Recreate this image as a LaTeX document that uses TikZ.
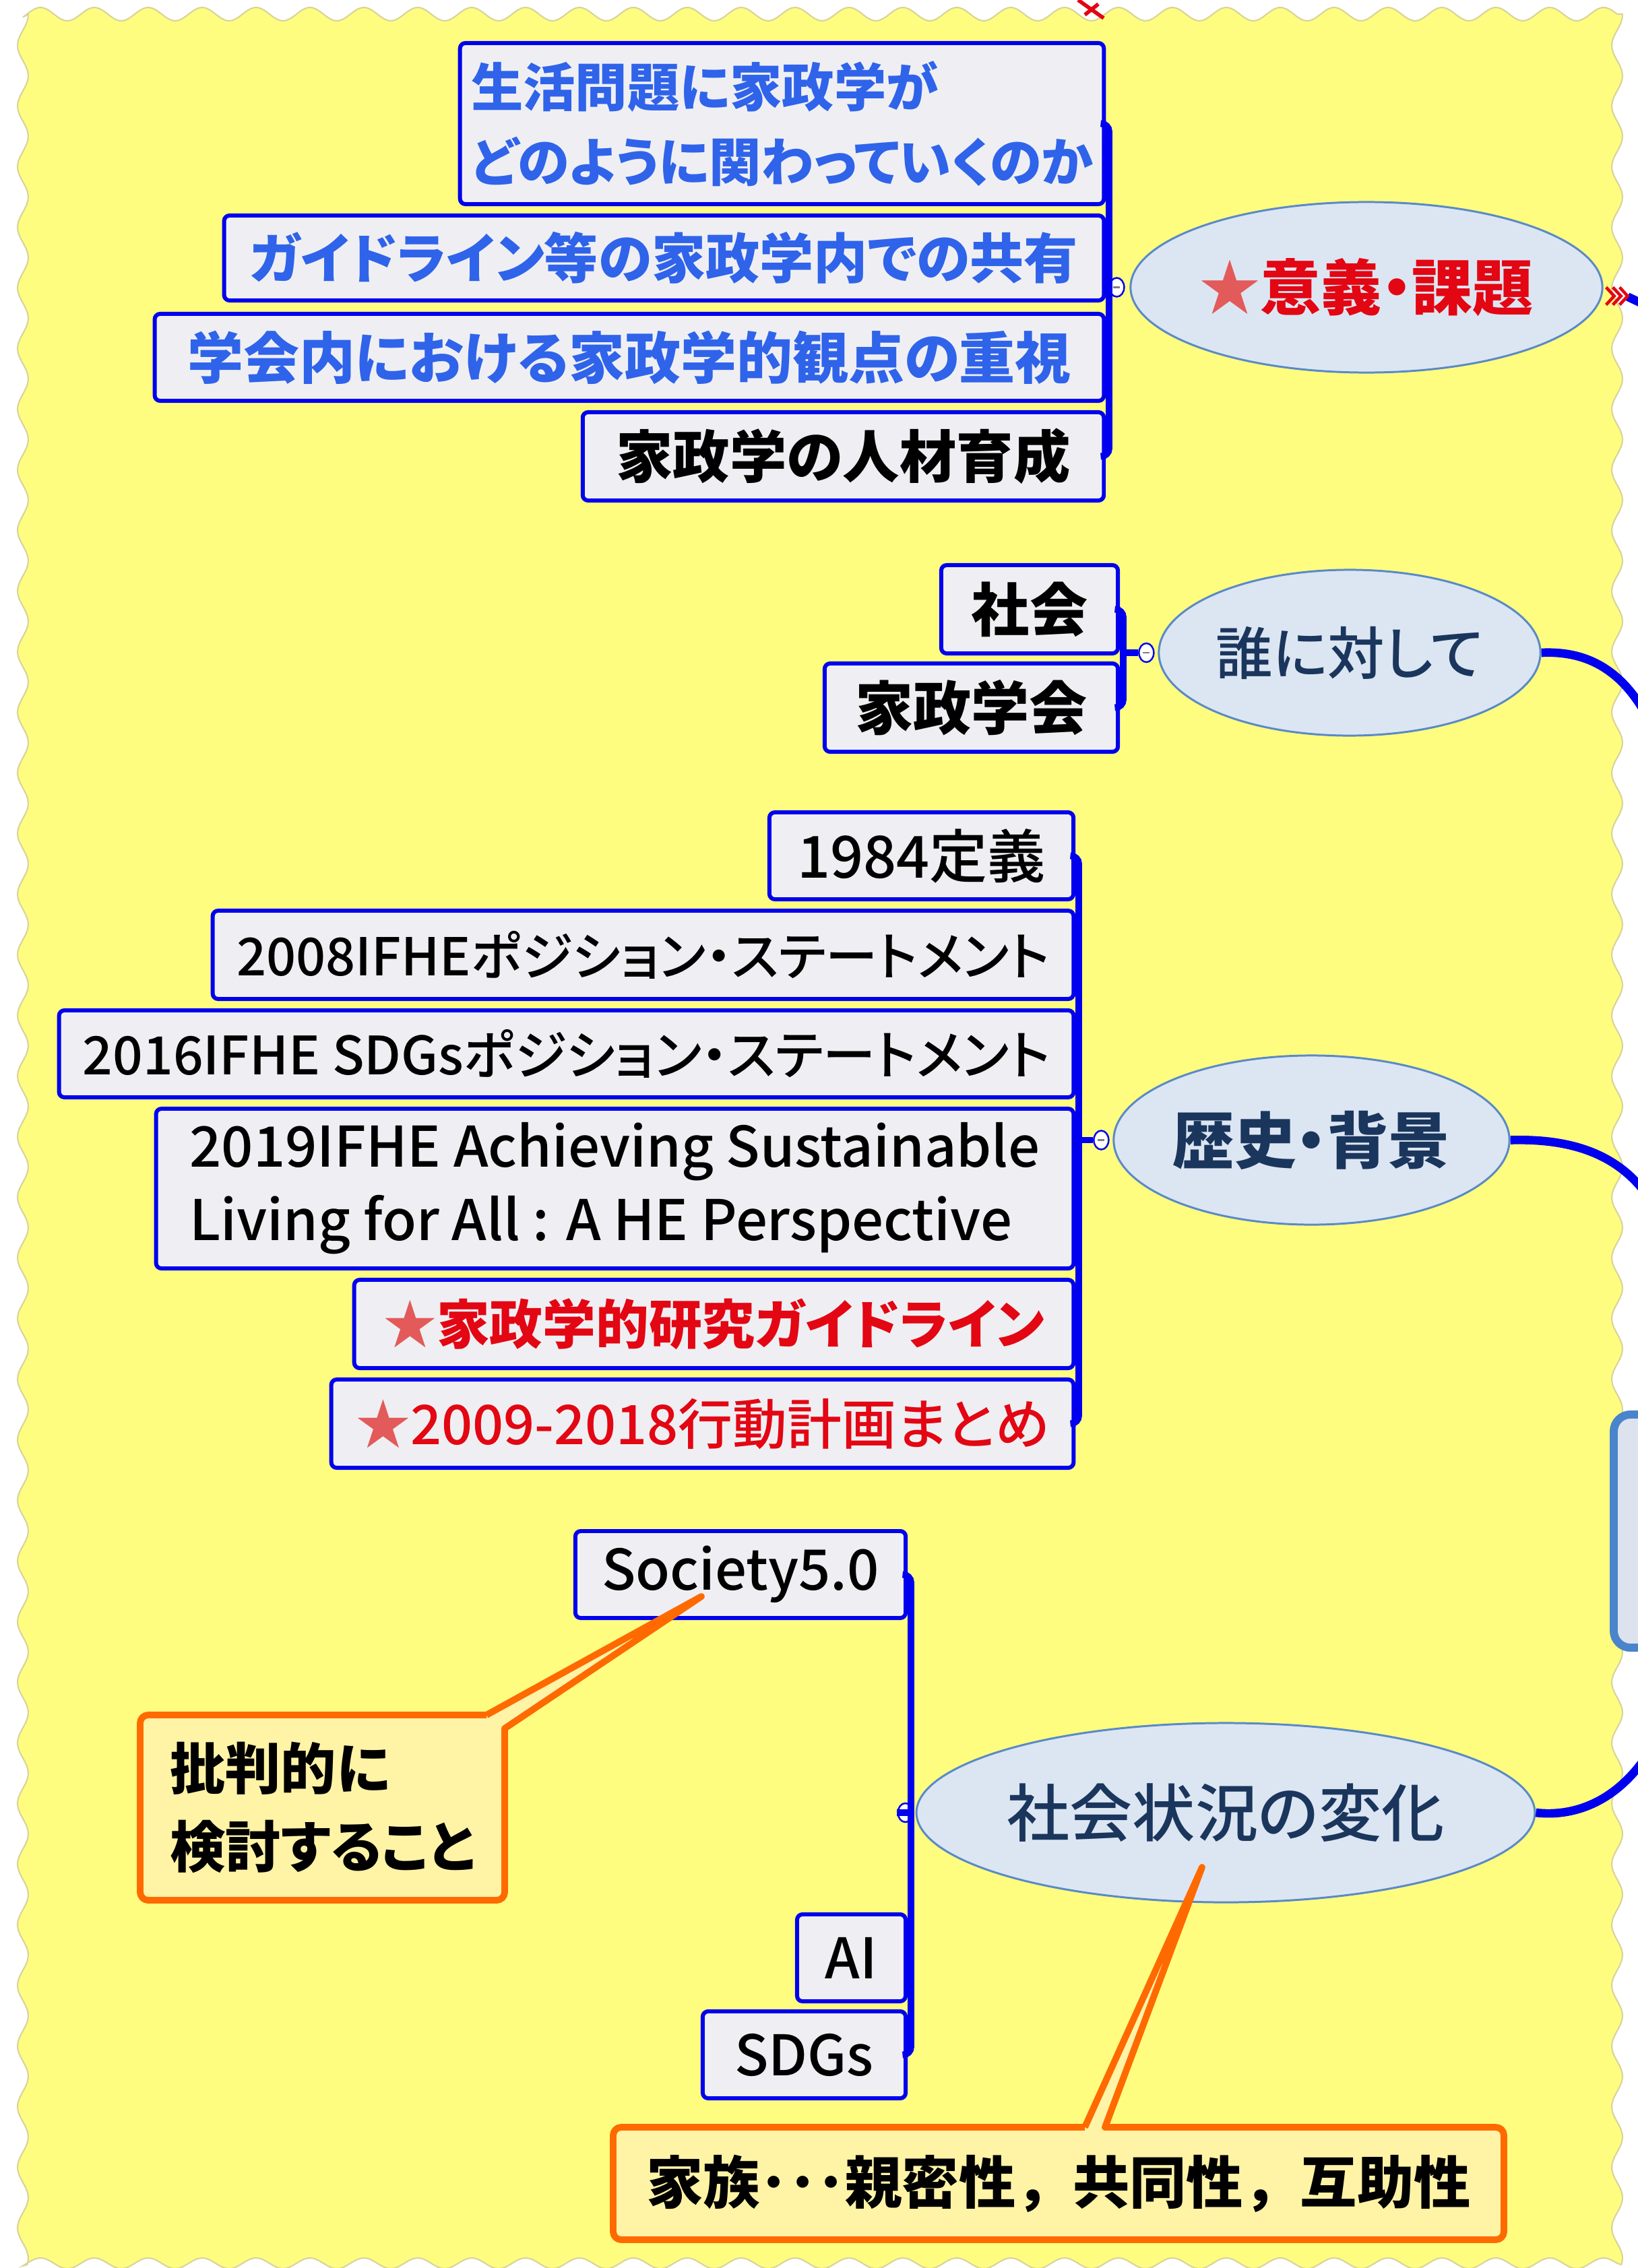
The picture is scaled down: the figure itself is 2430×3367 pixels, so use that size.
\documentclass[tikz,border=0pt]{standalone}
\usepackage{fontspec}
\setmainfont{Noto Sans CJK JP}[RawFeature=+palt]
\newfontfamily\jpmed{Noto Sans CJK JP Medium}[RawFeature=+palt]
\newfontfamily\jpfull{Noto Sans CJK JP}
\usetikzlibrary{shapes.geometric,calc}
\definecolor{yel}{HTML}{FFFD80}
\definecolor{yelline}{HTML}{D8D49A}
\definecolor{boxfill}{HTML}{EFEFF3}
\definecolor{boxblue}{HTML}{0000EE}
\definecolor{txtblue}{HTML}{2F63EA}
\definecolor{txtred}{HTML}{E30613}
\definecolor{starred}{HTML}{E35A5A}
\definecolor{navy}{HTML}{1B365D}
\definecolor{ellfill}{HTML}{DCE6F2}
\definecolor{ellline}{HTML}{5A8AC6}
\definecolor{calline}{HTML}{FF6A00}
\definecolor{calfill}{HTML}{FFF3A6}
\definecolor{cutline}{HTML}{4A85CC}
\definecolor{cutfill}{HTML}{DCE3EF}
\begin{document}
\begin{tikzpicture}[x=0.01cm,y=-0.01cm,
  box/.style={draw=boxblue,line width=1.7pt,fill=boxfill,rounded corners=0.08cm,inner sep=0pt,align=center},
  tb/.style={font=\fontsize{#1}{31.5pt}\selectfont\bfseries},
  tr/.style={font=\jpmed\fontsize{#1}{31pt}\selectfont},
  ell/.style={ellipse,draw=ellline,line width=0.85pt,fill=ellfill,inner sep=0pt},
  brk/.style={draw=boxblue,line width=2.8pt,rounded corners=0.12cm},
  conn/.style={draw=boxblue,line width=3.6pt},
  marker/.style={ellipse,draw=boxblue,line width=0.7pt,fill=white,minimum width=0.22cm,minimum height=0.28cm,inner sep=0pt},
  callout/.style={draw=calline,line width=2.8pt,fill=calfill,line join=round},
  cutbox/.style={draw=cutline,line width=3.4pt,fill=cutfill,rounded corners=0.25cm,inner sep=0pt}
]
\useasboundingbox (0,0) rectangle (2430,3367);
\fill[white] (0,0) rectangle (2430,3367);
\path[fill=yel,draw=yelline,line width=0.6pt]
  plot[domain=34:2400,samples=420] (\x,{21+10*sin(4.5*\x)})
  -- plot[domain=21:3362,samples=520] ({2400+8*sin(4*\x)},\x)
  -- plot[domain=2400:34,samples=420] (\x,{3360+8*sin(4.5*\x)})
  -- plot[domain=3362:21,samples=520] ({34+8*sin(4*\x)},\x) -- cycle;

% cut-off box on the right
\node[cutbox,minimum width=1.1cm,minimum height=3.46cm] (cut) at (2450,2273) {};

% ellipses
\node[ell,minimum width=6.56cm,minimum height=2.53cm,text=txtred,tb=25.6pt] (E1) at (2028,426.5) {{\color{starred}★}意義・課題};
\node[ell,minimum width=5.66cm,minimum height=2.46cm,text=navy,tr=24pt] (E2) at (2003,969) {誰に対して};
\node[ell,minimum width=5.87cm,minimum height=2.51cm,text=navy,tb=26pt] (E3) at (1946.5,1692.5) {歴史・背景};
\node[ell,minimum width=8.38cm,minimum height=2.66cm,text=navy,tr=26.5pt] (E4) at (1819,2691) {社会状況の変化};

% right connectors
\coordinate (r1) at (2440,452);
\coordinate (r2) at (2445,1065);
\coordinate (r3) at (2445,1775);
\coordinate (r4) at (2445,2605);
\draw[conn] ($(E1.east)+(36,14)$) -- (r1);
\draw[txtred,line width=1.4pt] ($(E1.east)+(54,17)$) -- ($(E1.east)+(68,21)$);
\foreach \i in {0,1,2}{
  \draw[txtred,line width=1.3pt] ($(E1.east)+(4+10*\i,0)$) -- ($(E1.east)+(16+10*\i,13)$) -- ($(E1.east)+(4+10*\i,26)$);
}
\draw[conn] (E2.east) .. controls (2350,966) and (2405,990) .. (r2);
\draw[conn] (E3.east) .. controls (2330,1690) and (2400,1712) .. (r3);
\draw[conn] (E4.east) .. controls (2330,2697) and (2395,2680) .. (r4);

% group 1 boxes
\node[box,minimum width=9.55cm,minimum height=2.39cm,text=txtblue,tb=22pt,align=left] (g1a) at (1160.5,183.5) {生活問題に家政学が\\どのように関わっていくのか};
\node[box,minimum width=13.05cm,minimum height=1.26cm,text=txtblue,tb=22.8pt] (g1b) at (985.5,383) {ガイドライン等の家政学内での共有};
\node[box,minimum width=14.08cm,minimum height=1.29cm,text=txtblue,tb=23.6pt] (g1c) at (934,530.5) {学会内における家政学的観点の重視};
\node[box,minimum width=7.73cm,minimum height=1.31cm,tb=24pt] (g1d) at (1251.5,677.5) {家政学の人材育成};

% group 2 boxes
\node[box,minimum width=2.62cm,minimum height=1.31cm,tb=24.5pt] (g2a) at (1528,904.5) {社会};
\node[box,minimum width=4.35cm,minimum height=1.31cm,tb=24.5pt] (g2b) at (1441.5,1050.5) {家政学会};

% group 3 boxes
\node[box,minimum width=4.51cm,minimum height=1.29cm,tr=24.5pt] (g3a) at (1367.5,1270.5) {1984定義};
\node[box,minimum width=12.77cm,minimum height=1.31cm,tr=22pt] (g3b) at (954.5,1417.5) {2008IFHEポジション・ステートメント};
\node[box,minimum width=15.05cm,minimum height=1.29cm,tr=22.3pt] (g3c) at (840.5,1564.5) {2016IFHE SDGsポジション・ステートメント};
\node[box,minimum width=13.61cm,minimum height=2.37cm,tr=23.6pt,align=left] (g3d) at (912.5,1764.5) {2019IFHE Achieving Sustainable\\Living for All : A HE Perspective};
\node[box,minimum width=10.67cm,minimum height=1.31cm,text=txtred,tb=22.4pt] (g3e) at (1059.5,1965.5) {{\color{starred}★}家政学的研究ガイドライン};
\node[box,minimum width=11.01cm,minimum height=1.31cm,text=txtred,tr=23pt] (g3f) at (1042.5,2113.5) {{\color{starred}★}2009-2018行動計画まとめ};

% group 4 boxes
\node[box,minimum width=4.90cm,minimum height=1.29cm,tr=23.6pt] (g4a) at (1099,2337.5) {Society5.0};
\node[box,minimum width=1.61cm,minimum height=1.29cm,tr=23.6pt] (g4b) at (1263.5,2906.5) {AI};
\node[box,minimum width=3.01cm,minimum height=1.29cm,tr=23.6pt] (g4c) at (1193.5,3050.5) {SDGs};

% markers
\node[marker] (m1) at ($(E1.west)+(-19,0)$) {};
\node[marker] (m2) at ($(E2.west)+(-17,0)$) {};
\node[marker] (m3) at ($(E3.west)+(-17,0)$) {};
\node[marker] (m4) at ($(E4.west)+(-15,0)$) {};
\foreach \m in {m1,m2,m3,m4}{
  \draw[gray,line width=0.6pt] ($(\m.center)+(-5,0)$) -- ($(\m.center)+(5,0)$);
}

% brackets
\coordinate (b1) at (1646,430);
\coordinate (b2) at (1667,969);
\coordinate (b3) at (1601,1692.5);
\coordinate (b4) at (1352,2691);
\draw[brk] (g1a.east) -| (b1) |- (g1d.east);
\draw[brk] (g2a.east) -| (b2) |- (g2b.east);
\draw[brk] (g3a.east) -| (b3) |- (g3f.east);
\draw[brk] (g4a.east) -| (b4) |- (g4c.east);
\draw[boxblue,line width=2.8pt] (b1) -- (m1.west);
\draw[boxblue,line width=2.8pt] (b2) -- (m2.west);
\draw[boxblue,line width=2.8pt] (b3) -- (m3.west);
\draw[boxblue,line width=2.8pt] (b4) -- (m4.west);

% callout 1
\coordinate (c1nw) at (208,2546);
\coordinate (c1se) at (749,2821);
\coordinate (t1) at (1041,2370);
\draw[callout] (722,2546) -- (t1) -- (749,2566) [rounded corners=0.12cm] -- (c1se) -- (208,2821) -- (c1nw) -- (722,2546);
\node[align=left,font=\fontsize{23.4pt}{33pt}\selectfont\bfseries] (c1) at ($(c1nw)!0.5!(c1se)$) {批判的に\\検討すること};

% callout 2
\coordinate (c2nw) at (910,3158);
\coordinate (c2se) at (2232,3325);
\coordinate (t2) at (1784,2772);
\draw[callout] (1610,3158) -- (t2) -- (1640,3158) [rounded corners=0.12cm] -- (2232,3158) -- (c2se) -- (910,3325) -- (c2nw) -- (1610,3158);
\node[font=\jpfull\fontsize{24pt}{31pt}\selectfont\bfseries] (c2) at ($(c2nw)!0.5!(c2se)$) {家族･･･親密性，共同性，互助性};

% red mark at top
\draw[txtred,line width=1.6pt] (1600,0) -- (1638,27);
\draw[txtred,line width=1.6pt] (1610,22) -- (1630,6);
\end{tikzpicture}
\end{document}
